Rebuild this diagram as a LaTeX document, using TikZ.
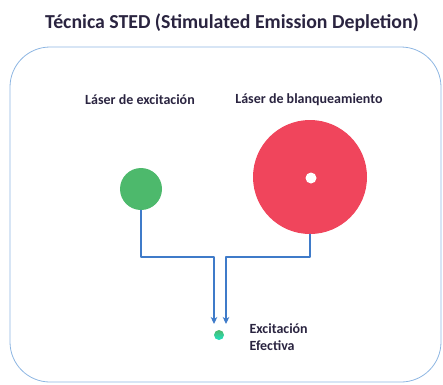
\documentclass[tikz,border=0pt]{standalone}
\usepackage{fontspec}
\setmainfont{Carlito}
\usetikzlibrary{arrows.meta}
\definecolor{boxline}{HTML}{8DB6E2}
\definecolor{txtnavy}{HTML}{2A2440}
\definecolor{lasergreen}{HTML}{4DB96C}
\definecolor{laserred}{HTML}{F0455C}
\definecolor{linkblue}{HTML}{3F7BC9}
\begin{document}
\begin{tikzpicture}[line join=round, line cap=round, >={Stealth[length=7pt,width=6.5pt,inset=2pt]}, x=1pt, y=-1pt,
    lbl/.style={font=\bfseries\fontsize{14}{17}\selectfont, text=txtnavy},
    spot/.style={circle, inner sep=0pt, draw=none},
    link/.style={linkblue, line width=1.4pt}]
    \useasboundingbox (0,0) rectangle (443,384);
    \draw[boxline, line width=0.8pt, rounded corners=40pt] (10,47) rectangle (441,382);
    \node[font=\bfseries\fontsize{19.8}{23}\selectfont, text=txtnavy] (title) at (232,23) {Técnica STED (Stimulated Emission Depletion)};
    \node[lbl] (lexc) at (140,100) {Láser de excitación};
    \node[lbl] (lbla) at (309,100) {Láser de blanqueamiento};
    \node[spot, fill=lasergreen, minimum size=42pt] (exc) at (141,189) {};
    \node[spot, fill=laserred, minimum size=114pt] (bla) at (310,177) {};
    \node[spot, fill=white, minimum size=11pt] (hole) at (311,178) {};
    \node[spot, minimum size=10pt, top color=lasergreen, bottom color=cyan!60!lasergreen] (eff) at (219,335) {};
    \node[lbl, align=left, anchor=west] (leff) at (246,337) {Excitación\\Efectiva};
    \coordinate (ja) at (214,257);
    \coordinate (jb) at (226,257);
    \coordinate (ta) at (214,324);
    \coordinate (tb) at (226,324);
    \draw[link, ->] (exc.south) |- (ja) -- (ta);
    \draw[link, ->] (bla.south) |- (jb) -- (tb);
\end{tikzpicture}
\end{document}
